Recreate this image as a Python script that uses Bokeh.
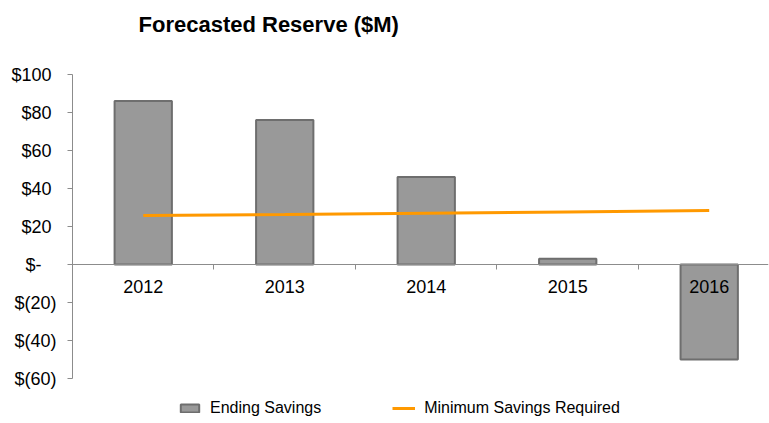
from bokeh.plotting import figure
from bokeh.models import (Range1d, LinearAxis, FixedTicker, Legend, LegendItem, Label)
from bokeh.core.properties import value
from bokeh.embed import file_html
from bokeh.resources import INLINE

years = ["2012", "2013", "2014", "2015", "2016"]
ending_savings = [86, 76, 46, 3, -50]
minimum_required = [25.8, 26.3, 27.0, 27.7, 28.4]
y_ticks = [-60, -40, -20, 0, 20, 40, 60, 80, 100]
y_tick_labels = ["$(60)", "$(40)", "$(20)", "$-\u00a0\u00a0\u00a0", "$20\u00a0", "$40\u00a0",
                 "$60\u00a0", "$80\u00a0", "$100\u00a0"]

centers = [i + 0.5 for i in range(len(years))]

FONT = "Liberation Sans"

# frame spans the whole height: y=100 at 74px, 1.9 px per unit
p = figure(width=769, height=423, output_backend="svg", toolbar_location=None,
           x_range=Range1d(0, 4.919), y_range=Range1d(-83.68, 138.95),
           x_axis_location=None, y_axis_location=None,
           min_border_left=72, min_border_right=1, min_border_top=0, min_border_bottom=0)
p.outline_line_color = None
p.xgrid.visible = False
p.ygrid.visible = False

title = Label(x=66, y=399, x_units="screen", y_units="screen",
              text="Forecasted Reserve ($M)", text_font=FONT, text_font_size="22px",
              text_font_style="bold", text_color="#000000",
              text_align="left", text_baseline="alphabetic")
p.add_layout(title)

# y axis
yaxis = LinearAxis(ticker=FixedTicker(ticks=y_ticks), bounds=(-60, 100),
                   major_label_overrides={t: l for t, l in zip(y_ticks, y_tick_labels)})
yaxis.axis_line_color = "#8c8c8c"
yaxis.major_tick_line_color = "#8c8c8c"
yaxis.major_tick_out = 5
yaxis.major_tick_in = 0
yaxis.minor_tick_line_color = None
yaxis.major_label_text_font = FONT
yaxis.major_label_text_font_size = "18px"
yaxis.major_label_text_color = "#000000"
yaxis.major_label_standoff = 11
p.add_layout(yaxis, "left")

# x axis at zero
xaxis = LinearAxis(ticker=FixedTicker(ticks=[1, 2, 3, 4]), fixed_location=0,
                   major_label_overrides={1: "", 2: "", 3: "", 4: ""})
xaxis.axis_line_color = "#8c8c8c"
xaxis.major_tick_line_color = "#8c8c8c"
xaxis.major_tick_out = 5
xaxis.major_tick_in = 0
xaxis.minor_tick_line_color = None
xaxis.major_label_text_font_size = "0px"
xaxis.major_label_standoff = 0
p.add_layout(xaxis, "below")

bars = p.vbar(x=centers, top=ending_savings, bottom=0, width=0.405,
              fill_color="#999999", line_color="#6e6e6e", line_width=2)
line = p.line(x=centers, y=minimum_required, line_color="#FF9900", line_width=3)

p.text(x=centers, y=[0] * len(years), text=years, y_offset=22,
       text_align="center", text_baseline="alphabetic",
       text_font=value(FONT), text_font_size="18px", text_color="#000000")

legend = Legend(items=[LegendItem(label="Ending Savings", renderers=[bars]),
                       LegendItem(label="Minimum Savings Required", renderers=[line])],
                orientation="horizontal", location=(106, 6))
legend.padding = 0
legend.margin = 0
legend.border_line_color = None
legend.background_fill_alpha = 0
legend.glyph_width = 23
legend.glyph_height = 10
legend.label_height = 16
legend.label_standoff = 9
legend.spacing = 71
legend.label_text_font = FONT
legend.label_text_font_size = "16px"
legend.label_text_color = "#000000"
p.add_layout(legend, "center")

open("out.html", "w").write(file_html(p, INLINE))
